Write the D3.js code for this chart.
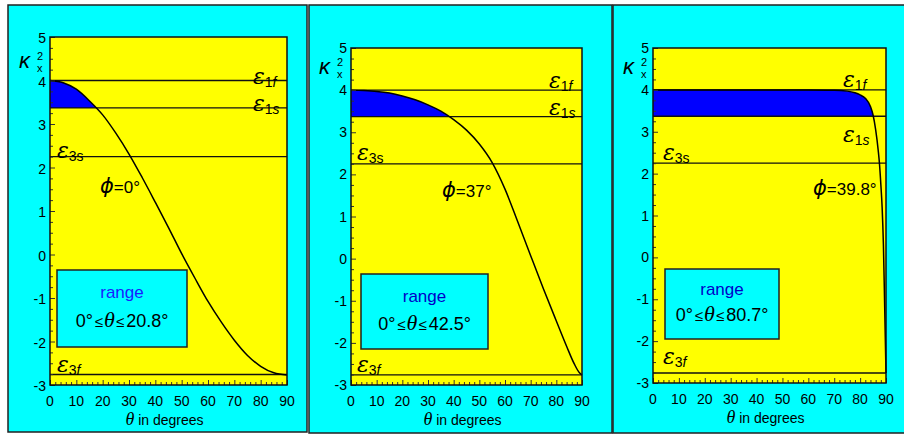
<!DOCTYPE html>
<html><head><meta charset="utf-8">
<script src="https://cdn.jsdelivr.net/npm/d3@7"></script>
<style>body{margin:0;background:#fff}svg{display:block}text{font-family:"Liberation Sans",Arial,sans-serif}</style>
</head><body>
<svg id="c" width="904" height="436"></svg>
<script>
// ---- data ----
const xTicks = [0,10,20,30,40,50,60,70,80,90];
const yTicks = [-3,-2,-1,0,1,2,3,4,5];
const eps1f = 4.0, eps1s = 3.37, eps3s = 2.25, eps3f = -2.76;
const theta1 = [0,5,10,15,20,25,30,35,40,45,50,55,60,65,70,75,80,85,90];
const kappa1 = [4.0,3.95,3.80,3.53,3.21,2.79,2.31,1.77,1.20,0.62,0.02,-0.54,-1.08,-1.55,-1.97,-2.32,-2.57,-2.72,-2.77];
const theta2 = [0,5,10,15,20,25,30,35,40,45,50,55,60,65,70,75,80,84,87,89,90];
const kappa2 = [4.0,3.99,3.97,3.93,3.86,3.77,3.65,3.50,3.30,3.05,2.72,2.28,1.65,0.87,0.07,-0.72,-1.48,-2.08,-2.50,-2.71,-2.76];
const theta3 = [0,10,20,30,40,50,60,70,75,78,80,82,84,85,86,87,87.5,88,88.5,89,89.5,90];
const kappa3 = [4.0,4.0,4.0,4.0,4.0,4.0,3.995,3.99,3.97,3.93,3.88,3.80,3.60,3.40,3.05,2.55,2.22,1.75,1.2,0.3,-1.2,-2.76];
const phiLabels = ["=0°","=37°","=39.8°"];
const rangeMax = ["20.8","42.5","80.7"];

// ---- layout ----
const panels = [
  {ox:8, oy:5, ow:299, oh:427, l:50, t:37, r:287, b:385, th:theta1, k:kappa1,
   e1f:[253,84], e1s:[253,111], e3s:[57,158], e3f:[57,372], phi:[100,193], box:[57,270,130,77], kap:[19,62]},
  {ox:309, oy:5, ow:303, oh:428, l:351, t:48, r:582, b:385, th:theta2, k:kappa2,
   e1f:[549,88], e1s:[549,115], e3s:[357,160], e3f:[357,372], phi:[442,197], box:[361,274,127,75], kap:[319,68]},
  {ox:613, oy:5, ow:295, oh:428, l:653, t:48, r:886, b:383, th:theta3, k:kappa3,
   e1f:[843,87], e1s:[843,142], e3s:[663,160], e3f:[663,364], phi:[813,195], box:[665,269,114,70], kap:[623,68]}
];

const svg = d3.select("#c");
panels.forEach((p,i)=>{
  const g = svg.append("g");
  g.append("rect").attr("x",p.ox).attr("y",p.oy).attr("width",p.ow).attr("height",p.oh)
    .attr("fill","#00ffff").attr("stroke","#222").attr("stroke-width",1.5);
  const x = d3.scaleLinear().domain([0,90]).range([p.l,p.r]);
  const y = d3.scaleLinear().domain([-3,5]).range([p.b,p.t]);
  g.append("rect").attr("x",p.l).attr("y",p.t).attr("width",p.r-p.l).attr("height",p.b-p.t).attr("fill","#ffff00");
  const data = p.th.map((t,j)=>[t,p.k[j]]);
  const cid = "clip"+i;
  g.append("clipPath").attr("id",cid).append("rect")
    .attr("x",p.l).attr("y",p.t).attr("width",p.r-p.l).attr("height",y(eps1s)-p.t);
  g.append("path").datum(data).attr("clip-path",`url(#${cid})`)
    .attr("d",d3.area().x(d=>x(d[0])).y0(y(eps1s)).y1(d=>y(d[1])).curve(d3.curveMonotoneX))
    .attr("fill","#0000ff");
  [eps1f,eps1s,eps3s,eps3f].forEach(v=>{
    g.append("line").attr("x1",p.l).attr("x2",p.r).attr("y1",y(v)).attr("y2",y(v))
      .attr("stroke","#111").attr("stroke-width",1.4);
  });
  g.append("path").datum(data)
    .attr("d",d3.line().x(d=>x(d[0])).y(d=>y(d[1])).curve(d3.curveMonotoneX))
    .attr("fill","none").attr("stroke","#000").attr("stroke-width",1.5);
  const yAx = d3.axisRight(y).tickValues(d3.range(-3,5.001,0.25)).tickSize(3).tickFormat("");
  const ya = g.append("g").attr("transform",`translate(${p.l},0)`).call(yAx);
  ya.selectAll(".tick line").attr("x2",d=>Number.isInteger(d)?5:3).attr("stroke","#333");
  ya.select(".domain").remove();
  const xAx = d3.axisTop(x).tickValues(d3.range(0,90.001,2)).tickSize(3).tickFormat("");
  const xa = g.append("g").attr("transform",`translate(0,${p.b})`).call(xAx);
  xa.selectAll(".tick line").attr("y2",d=>d%10===0?-5:-3).attr("stroke","#333");
  xa.select(".domain").remove();
  g.append("rect").attr("x",p.l).attr("y",p.t).attr("width",p.r-p.l).attr("height",p.b-p.t)
    .attr("fill","none").attr("stroke","#111").attr("stroke-width",1.5);
  g.selectAll(".yl").data(yTicks).enter().append("text")
    .attr("x",p.l-4).attr("y",d=>y(d)+5+(i==0?1:0)).attr("text-anchor","end")
    .attr("font-size",14).text(d=>d);
  g.selectAll(".xl").data(xTicks).enter().append("text")
    .attr("x",d=>x(d)).attr("y",p.b+21).attr("text-anchor","middle")
    .attr("font-size",14).text(d=>d);
  const xt = g.append("text").attr("x",(p.l+p.r)/2-4).attr("y",p.b+40).attr("text-anchor","middle").attr("font-size",14);
  xt.append("tspan").attr("font-style","italic").attr("font-size",18).attr("font-family","Liberation Serif").text("θ");
  xt.append("tspan").text(" in degrees");
  g.append("text").attr("x",p.kap[0]).attr("y",p.kap[1]+6).attr("font-size",22)
    .attr("font-style","italic").attr("font-family","DejaVu Serif").text("κ");
  g.append("text").attr("x",p.kap[0]+18).attr("y",p.kap[1]-2).attr("font-size",11).text("2");
  g.append("text").attr("x",p.kap[0]+18).attr("y",p.kap[1]+10).attr("font-size",11).text("x");
  function eps(pos,sub,italicLast){
    const t = g.append("text").attr("x",pos[0]).attr("y",pos[1]).attr("font-size",22);
    t.append("tspan").attr("font-style","italic").attr("font-family","DejaVu Serif").text("ε");
    t.append("tspan").attr("font-size",14).attr("dy",3).text(sub[0]);
    t.append("tspan").attr("font-size",14).attr("font-style",italicLast?"italic":"normal").text(sub[1]);
  }
  eps(p.e1f,"1f",true); eps(p.e1s,"1s",true); eps(p.e3s,"3s",false); eps(p.e3f,"3f",true);
  const pt = g.append("text").attr("x",p.phi[0]).attr("y",p.phi[1]).attr("font-size",17);
  pt.append("tspan").attr("font-style","italic").attr("font-size",21).attr("font-family","DejaVu Sans").text("ϕ");
  pt.append("tspan").text(phiLabels[i]);
  const [bx,by,bw,bh] = p.box;
  g.append("rect").attr("x",bx).attr("y",by).attr("width",bw).attr("height",bh)
    .attr("fill","#00ffff").attr("stroke","#222").attr("stroke-width",1.5);
  g.append("text").attr("x",bx+bw/2).attr("y",by+bh*0.37).attr("text-anchor","middle")
    .attr("font-size",17).attr("fill",i==0?"#1a1aff":"#0000c8").text("range");
  const rt = g.append("text").attr("x",bx+bw/2).attr("y",by+bh*0.74).attr("text-anchor","middle").attr("font-size",18);
  rt.append("tspan").text("0°");
  rt.append("tspan").attr("dx",2).attr("font-size",15).text("≤");
  rt.append("tspan").attr("dx",1).attr("font-style","italic").attr("font-family","Liberation Serif").attr("font-size",22).text("θ");
  rt.append("tspan").attr("dx",1).attr("font-size",15).text("≤");
  rt.append("tspan").attr("dx",2).text(rangeMax[i]+"°");
});
</script>
</body></html>
